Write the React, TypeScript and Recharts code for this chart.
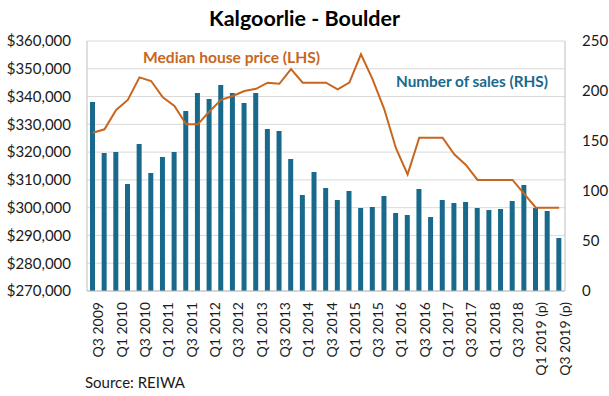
import React from "react";
import {
  ComposedChart,
  Bar,
  Line,
  XAxis,
  YAxis,
  CartesianGrid,
} from "recharts";

const quarters: string[] = [
  "Q3 2009", "Q4 2009",
  "Q1 2010", "Q2 2010", "Q3 2010", "Q4 2010",
  "Q1 2011", "Q2 2011", "Q3 2011", "Q4 2011",
  "Q1 2012", "Q2 2012", "Q3 2012", "Q4 2012",
  "Q1 2013", "Q2 2013", "Q3 2013", "Q4 2013",
  "Q1 2014", "Q2 2014", "Q3 2014", "Q4 2014",
  "Q1 2015", "Q2 2015", "Q3 2015", "Q4 2015",
  "Q1 2016", "Q2 2016", "Q3 2016", "Q4 2016",
  "Q1 2017", "Q2 2017", "Q3 2017", "Q4 2017",
  "Q1 2018", "Q2 2018", "Q3 2018", "Q4 2018",
  "Q1 2019 (p)", "Q2 2019 (p)", "Q3 2019 (p)",
];

const salesCount: number[] = [
  189, 138, 139, 107, 147, 118, 134, 139, 180, 198,
  192, 206, 198, 188, 198, 162, 160, 132, 96, 119,
  103, 91, 100, 83, 84, 95, 78, 76, 102, 74,
  91, 88, 89, 83, 81, 82, 90, 106, 83, 80,
  53,
];

const medianPrice: number[] = [
  327000, 328200, 335200, 338800, 346900, 345600, 339700, 336600, 330000, 330000,
  334600, 338800, 340200, 342000, 342800, 345000, 344600, 349900, 345000, 345000,
  345000, 342600, 345000, 355200, 346200, 335400, 321400, 312000, 325200, 325200,
  325200, 319200, 315400, 310000, 310000, 310000, 310000, 305000, 300000, 300000,
  300000,
];

const leftTicks: number[] = [270000, 280000, 290000, 300000, 310000, 320000, 330000, 340000, 350000, 360000];
const rightTicks: number[] = [0, 50, 100, 150, 200, 250];

const data = quarters.map((q, i) => ({
  q,
  sales: salesCount[i],
  price: medianPrice[i],
}));

const FONT = "Lato, 'Open Sans', sans-serif";
const BAR_COLOR = "#19698c";
const LINE_COLOR = "#c8661e";
const TEXT_COLOR = "#1a1a1a";

const XTick = (props: any) => {
  const { x, y, payload } = props;
  const cx = x + 5;
  return (
    <text
      x={cx}
      y={y}
      transform={`rotate(-90, ${cx}, ${y})`}
      textAnchor="end"
      dominantBaseline="central"
      fontSize={14}
      fontFamily={FONT}
      fill={TEXT_COLOR}
    >
      {payload.value}
    </text>
  );
};

export default function App() {
  return (
    <div
      style={{
        position: "absolute",
        left: 0,
        top: 0,
        width: 609,
        height: 396,
        background: "#fff",
        fontFamily: FONT,
      }}
    >
      <div
        style={{
          position: "absolute",
          left: 0,
          width: 609,
          top: 5,
          textAlign: "center",
          fontSize: 21.5,
          fontWeight: 700,
          color: "#000",
          lineHeight: "26px",
        }}
      >
        Kalgoorlie - Boulder
      </div>
      <ComposedChart
        width={609}
        height={396}
        data={data}
        margin={{ top: 41, right: 0, left: 0, bottom: 0 }}
      >
        <CartesianGrid
          yAxisId="left"
          vertical={false}
          stroke="#d9d9d9"
          strokeWidth={1}
        />
        <XAxis
          dataKey="q"
          interval={1}
          height={105}
          tickSize={0}
          tickMargin={11}
          tick={<XTick />}
          axisLine={{ stroke: "#bfbfbf" }}
          tickLine={false}
        />
        <YAxis
          yAxisId="left"
          orientation="left"
          width={87}
          domain={[270000, 360000]}
          ticks={leftTicks}
          interval={0}
          tickSize={0}
          tickMargin={16}
          axisLine={{ stroke: "#bfbfbf" }}
          tickLine={false}
          tick={{ fontSize: 15, fill: TEXT_COLOR, fontFamily: FONT }}
          tickFormatter={(v: number) => "$" + v.toLocaleString("en-US")}
        />
        <YAxis
          yAxisId="right"
          orientation="right"
          width={44}
          domain={[0, 250]}
          ticks={rightTicks}
          interval={0}
          tickSize={0}
          tickMargin={17}
          axisLine={{ stroke: "#bfbfbf" }}
          tickLine={false}
          tick={{ fontSize: 15, fill: TEXT_COLOR, fontFamily: FONT, textAnchor: "start" }}
        />
        <Bar
          yAxisId="right"
          dataKey="sales"
          fill={BAR_COLOR}
          barSize={5}
          isAnimationActive={false}
        />
        <Line
          yAxisId="left"
          dataKey="price"
          type="linear"
          stroke={LINE_COLOR}
          strokeWidth={2}
          dot={false}
          activeDot={false}
          isAnimationActive={false}
        />
      </ComposedChart>
      <div
        style={{
          position: "absolute",
          left: 143,
          top: 47,
          fontSize: 15.6,
          fontWeight: 700,
          color: LINE_COLOR,
          lineHeight: "20px",
          whiteSpace: "nowrap",
        }}
      >
        Median house price (LHS)
      </div>
      <div
        style={{
          position: "absolute",
          left: 396,
          top: 71,
          fontSize: 15.3,
          fontWeight: 700,
          color: BAR_COLOR,
          lineHeight: "20px",
          whiteSpace: "nowrap",
        }}
      >
        Number of sales (RHS)
      </div>
      <div
        style={{
          position: "absolute",
          left: 85,
          top: 372,
          fontSize: 15,
          color: TEXT_COLOR,
          lineHeight: "20px",
          whiteSpace: "nowrap",
        }}
      >
        Source: REIWA
      </div>
    </div>
  );
}
